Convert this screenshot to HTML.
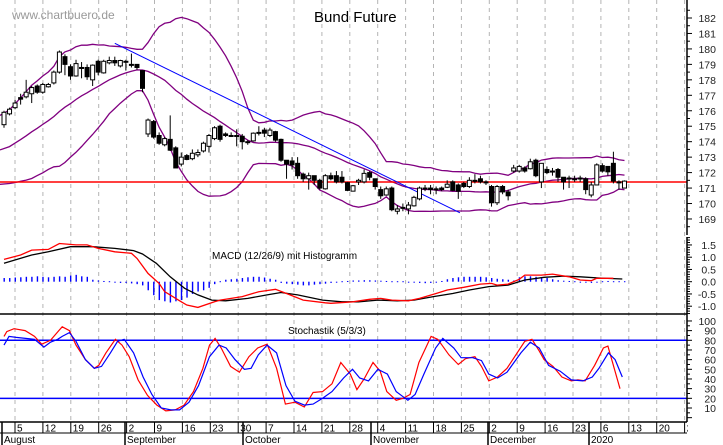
<!DOCTYPE html>
<html><head><meta charset="utf-8"><title>Bund Future</title>
<style>
html,body{margin:0;padding:0;background:#fff;}
svg{display:block;font-family:"Liberation Sans",Arial,sans-serif;}
</style></head>
<body>
<svg id="chart" width="723" height="445" viewBox="0 0 723 445" xmlns="http://www.w3.org/2000/svg">
<rect x="0" y="0" width="723" height="445" fill="#fff"/>
<g id="grid"></g>
<g id="main"></g>
<g id="macd"></g>
<g id="stoch"></g>
<g id="axes"></g>
<text x="12" y="19" font-size="12" fill="#999">www.chartbuero.de</text>
<text x="314" y="22" font-size="15" fill="#000">Bund Future</text>
<text x="212" y="259" font-size="10" fill="#000">MACD (12/26/9) mit Histogramm</text>
<text x="288" y="334" font-size="10" fill="#000">Stochastik (5/3/3)</text>
</svg>
<script>
// ---- price data (daily candles, Aug 1 2019 .. Jan 10 2020) ----
const opens=[175.1,175.8,176.2,176.85,176.9,177.1,177.6,177.2,177.55,177.8,178.5,179.5,178.85,178.25,178.8,178.8,178.0,179.2,178.45,179.1,179.25,178.9,179.2,179.0,179.0,178.6,174.5,175.3,174.4,173.8,174.15,173.6,172.55,173.1,172.9,173.15,173.4,173.7,174.2,175.0,174.5,174.4,174.4,174.35,174.0,174.05,174.6,174.75,174.4,174.65,174.15,172.8,172.75,172.6,171.9,171.6,171.8,171.5,170.95,171.8,171.8,171.7,171.35,170.8,171.4,171.4,172.0,171.6,170.9,170.55,171.0,169.5,169.7,169.65,169.85,170.3,171.0,171.0,170.95,171.0,171.05,171.4,171.2,171.3,171.1,171.5,171.6,171.4,171.1,170.05,171.1,170.75,172.1,172.1,172.3,172.25,172.8,171.4,172.2,172.1,172.2,171.7,171.65,171.6,171.6,171.6,170.55,171.2,172.45,172.4,172.6,171.4,171.0];
const closes=[175.9,176.1,176.5,176.75,177.2,177.5,177.2,177.7,177.7,178.5,179.8,179.0,178.25,179.05,178.75,178.2,178.95,178.5,179.2,179.25,179.1,179.25,179.15,178.95,178.8,177.45,175.4,174.3,173.9,174.2,173.45,172.3,173.0,172.85,173.25,173.3,173.9,174.4,174.9,174.15,174.4,174.4,174.35,174.0,173.95,174.55,174.6,174.55,174.75,174.1,172.8,172.55,172.5,171.8,171.6,171.8,171.5,171.0,171.8,171.6,171.4,171.4,170.85,171.15,171.5,171.95,171.7,171.1,170.5,170.95,169.6,169.65,169.75,169.9,170.4,171.0,171.0,170.9,170.9,170.9,171.25,170.85,170.8,171.1,171.5,171.45,171.4,171.4,170.05,171.1,170.75,170.5,172.3,172.4,172.1,172.7,171.8,172.6,172.0,172.1,171.7,171.4,171.65,171.6,171.65,170.9,171.2,172.5,172.1,172.05,171.45,171.4,171.45];
const highs=[176.0,176.2,176.7,177.1,178.0,177.6,177.7,177.8,177.8,178.6,179.9,179.65,179.0,179.3,179.15,179.0,179.0,179.3,179.3,179.5,179.5,179.3,179.3,179.7,179.0,178.6,175.5,175.4,174.6,174.3,175.7,173.7,173.3,173.2,173.5,173.5,174.0,174.5,175.0,175.1,174.6,174.6,174.8,174.5,174.1,174.6,175.0,174.9,174.9,174.7,174.2,172.8,173.0,173.0,172.0,172.0,171.8,171.6,171.9,172.0,172.1,172.1,171.4,171.2,171.6,172.2,172.1,171.6,171.1,171.1,171.1,169.9,170.0,170.1,170.5,171.1,171.2,171.2,171.1,171.1,171.5,171.5,171.3,171.4,171.7,171.9,171.8,171.5,171.2,171.2,171.2,170.9,172.5,172.5,172.4,172.9,172.9,172.6,172.4,172.3,172.3,171.7,171.8,171.8,171.8,171.7,171.4,172.6,172.6,172.4,173.35,171.5,171.5];
const lows=[174.9,175.7,176.1,176.4,176.8,176.5,177.1,177.1,177.5,177.7,178.4,178.3,178.0,178.2,178.1,178.0,177.6,178.3,178.4,179.0,178.9,178.8,178.6,178.8,178.65,177.2,174.3,174.2,173.8,173.7,173.4,172.3,172.4,172.8,172.8,173.0,173.3,173.3,174.1,174.0,174.3,174.3,173.7,173.5,173.8,174.0,174.4,174.3,174.3,174.0,172.7,171.6,172.2,171.6,171.4,170.9,171.2,170.9,170.9,171.5,171.3,171.3,170.8,170.8,171.2,171.3,171.5,170.9,170.3,170.5,169.5,169.3,169.5,169.3,169.8,170.2,170.8,170.6,170.6,170.8,171.0,170.8,170.3,171.0,171.0,171.3,171.3,171.2,169.8,169.9,170.6,170.2,172.0,172.0,172.0,172.2,171.7,171.0,171.9,171.8,171.4,170.9,171.0,171.4,171.4,170.6,170.4,171.2,172.0,171.8,171.3,170.9,171.0];
// closes of the 19 sessions before the visible window (for Bollinger warm-up)
const preCloses=[171.9,172.0,172.1,172.3,172.4,172.6,172.7,172.9,173.1,173.3,173.4,173.6,173.8,174.0,174.3,174.5,174.7,174.9,175.0];
const supportLevel=171.39;
const trendStart=[20,180.36];
const trendEnd=[82.3,169.4];
const priceTicks=[169,170,171,172,173,174,175,176,177,178,179,180,181,182];
// ---- MACD (sampled at session index) ----
const macdIdx=[0,3,5,8,10,13,15,17,20,23,24,26,28,29,32,33,35,38,39,43,46,49,51,54,58,59,63,66,68,70,73,75,78,80,83,86,88,89,91,93,94,97,99,102,104,106,107,110];
const macdVals=[0.91,1.09,1.29,1.32,1.56,1.5,1.5,1.36,1.22,1.16,0.95,0.34,-0.07,-0.41,-0.82,-0.95,-1.05,-0.82,-0.75,-0.61,-0.41,-0.31,-0.48,-0.75,-0.86,-0.88,-0.82,-0.72,-0.68,-0.75,-0.78,-0.68,-0.48,-0.34,-0.23,-0.1,-0.07,-0.14,-0.1,0.1,0.27,0.27,0.31,0.2,0.07,0.04,0.14,0.14];
const signalIdx=[0,5,8,12,16,20,23.4,25,27.5,30,32.6,35,37.5,40,44,47.5,50,53,57.5,61,64,67.5,71,74,77.5,81,84,87.5,91,94,97.5,101,104,107.4,111.6];
const signalVals=[0.75,1.09,1.22,1.43,1.43,1.36,1.27,1.13,0.75,0.2,-0.27,-0.54,-0.75,-0.78,-0.68,-0.54,-0.44,-0.54,-0.75,-0.82,-0.82,-0.75,-0.78,-0.75,-0.61,-0.48,-0.34,-0.2,-0.14,0.07,0.18,0.23,0.2,0.15,0.11];
const histVals=[0.15,0.15,0.17,0.18,0.2,0.2,0.22,0.2,0.18,0.2,0.22,0.2,0.25,0.28,0.22,0.2,
0.08,0.05,0.03,0.02,0.0,-0.05,-0.05,-0.07,-0.1,-0.15,-0.35,-0.55,-0.75,-0.8,-0.85,-0.8,-0.75,-0.65,-0.5,-0.4,-0.35,-0.25,-0.1,0.02,
0.08,0.1,0.12,0.15,0.18,0.2,0.2,0.17,0.12,0.08,-0.05,-0.08,-0.1,-0.12,-0.15,-0.15,-0.12,-0.1,-0.08,-0.05,-0.03,
0.02,0.03,0.05,0.05,0.06,0.06,0.05,0.04,0.03,0.02,0.02,0.02,0.0,-0.03,-0.05,-0.06,-0.05,-0.02,0.03,
0.1,0.15,0.18,0.2,0.2,0.2,0.2,0.18,0.15,0.12,0.1,0.08,0.05,0.18,0.22,0.22,0.2,0.18,0.15,0.1,0.06,
0.04,0.03,0.02,0.0,-0.03,-0.05,-0.03,0.02,0.03,0.02,0.02,0.02];
const macdTicks=[1.5,1.0,0.5,0.0,-0.5,-1.0];
const macdTickLabels=["1.5","1.0","0.5","0.0","-0.5","-1.0"];
// ---- Stochastic ----
const kIdx=[0,0.5,1.8,3.8,5.5,6.8,8.4,9.9,10.5,11.8,13,14.7,16.3,17.1,18.4,20.1,21.3,22.6,24.2,25.9,27.6,29.2,30.9,32.5,34.2,35.9,37.1,38.1,39.2,40.9,42.5,44.2,45.8,47.5,49.2,50.8,52.5,54.2,55.8,57.5,59.2,60.8,62.5,63.7,65,66.6,67.9,69.1,70.8,72,73.3,74.9,77.1,78.3,80.3,82,83.3,85,86.2,87.5,89.1,90.8,92.4,94,95.3,96.6,97.5,99.1,100.7,102.4,103.6,104.9,106.6,108.2,109,111.2];
const kVals=[84,89,92,90,84,76,80,90,94,90,75,60,51,54,67,81,75,63,39,23,13,7,8,13,27,51,75,82,72,53,47,63,72,76,51,14,16,11,26,27,35,57,45,29,40,57,48,27,18,20,24,57,84,81,65,55,61,63,53,38,42,51,65,79,81,69,60,53,42,38,39,38,54,72,74,30];
const dIdx=[0,0.9,2.2,3.9,5.5,7.2,8.4,9.7,10.5,11.8,13,14.7,16.3,17.6,19.2,20.5,21.7,23.4,25.1,26.7,28.4,30.1,31.7,33.4,35.1,37.1,38.8,40.1,41.7,43.4,44.6,45.9,47.5,49.2,50.9,52.5,54.2,55.8,57.5,59.2,61.3,62.9,64.2,65.8,67.5,69.2,70.8,72.9,74.2,75.8,77.9,79.2,81.2,82.5,84.6,86.2,87.5,89.1,90.8,93.3,95,96.6,98.3,100.4,102.4,104.5,106.2,107.4,109.1,110.3,111.6];
const dVals=[75,84,83,82,81,73,78,81,84,88,79,60,51,53,67,79,81,67,42,24,10,8,8,16,33,63,75,72,60,50,51,65,75,67,33,17,13,14,20,27,41,50,41,38,50,45,27,18,24,45,72,82,72,62,62,59,45,41,47,67,78,72,54,48,39,38,42,51,67,60,42];
const stochLines=[80,20];
const stochTicks=[100,90,80,70,60,50,40,30,20,10];
// ---- dates ----
const weekLabels=["5","12","19","26","2","9","16","23","30","7","14","21","28","4","11","18","25","2","9","16","23","6","13","20","27"];
const monthLabels=["August","September","October","November","December","2020"];
const monthX=[2,125,243,371,488,589];

const NS="http://www.w3.org/2000/svg";
function mk(tag,attrs,parent){const e=document.createElementNS(NS,tag);for(const k in attrs)e.setAttribute(k,attrs[k]);parent.appendChild(e);return e;}
const PR=687; // right edge of plot
const xi=i=>4+i*5.54;
const yP=p=>18+(182-p)*15.46;
const yM=v=>281.7-v*24.5;
const yS=v=>340.3+(80-v)*0.967;
const gGrid=document.getElementById('grid'),gMain=document.getElementById('main'),gMacd=document.getElementById('macd'),gSt=document.getElementById('stoch'),gAx=document.getElementById('axes');

// weekly gridlines
const gridX=weekLabels.map((_,k)=>15+k*27.9);
gridX.forEach((x,k)=>{
  if(x>=PR)return;
  const l=mk('line',{x1:x,y1:0,x2:x,y2:422,stroke:'#b4b4b4','stroke-width':1,'stroke-dasharray':'4,4'},gGrid);
  
  
});

// Bollinger bands (20,2)
const all=preCloses.concat(closes);
const up=[],mid=[],lo=[];
for(let i=0;i<closes.length;i++){
  const w=all.slice(i,i+20);
  const m=w.reduce((a,b)=>a+b,0)/20;
  const sd=Math.sqrt(w.reduce((a,b)=>a+(b-m)*(b-m),0)/20);
  mid.push(m);up.push(m+2*sd);lo.push(m-2*sd);
}
[[up,'bollinger-upper'],[mid,'bollinger-middle'],[lo,'bollinger-lower']].forEach(([arr,nm])=>{
  const p=mk('polyline',{points:arr.map((v,i)=>(i===0?0:xi(i)).toFixed(1)+','+yP(v).toFixed(1)).join(' '),fill:'none',stroke:'#800080','stroke-width':1.3},gMain);
  
  
});
// support line
const sl=mk('line',{x1:0,x2:PR,y1:yP(supportLevel),y2:yP(supportLevel),stroke:'#ff0000','stroke-width':1.5},gMain);


// trendline
const tl=mk('line',{x1:xi(trendStart[0]),y1:yP(trendStart[1]),x2:xi(trendEnd[0]),y2:yP(trendEnd[1]),stroke:'#0000ff','stroke-width':1},gMain);


// candles
closes.forEach((c,i)=>{
  const o=opens[i],x=xi(i);
  const g=mk('g',{},gMain);
  
  
  mk('line',{x1:x,x2:x,y1:yP(highs[i]),y2:yP(lows[i]),stroke:'#000','stroke-width':1},g);
  const top=yP(Math.max(o,c)),bot=yP(Math.min(o,c));
  mk('rect',{x:x-2,y:top,width:4,height:Math.max(1,bot-top),fill:c>=o?'#fff':'#000',stroke:'#000','stroke-width':1},g);
});

// MACD histogram
histVals.forEach((v,i)=>{
  const y0=yM(0),y1=yM(v);
  const b=mk('rect',{x:xi(i)-0.5,y:Math.min(y0,y1),width:1.4,height:Math.max(1,Math.abs(y1-y0)),fill:'#0000ff'},gMacd);
  
  
});
const sig=mk('polyline',{points:signalIdx.map((t,k)=>xi(t).toFixed(1)+','+yM(signalVals[k]).toFixed(1)).join(' '),fill:'none',stroke:'#000','stroke-width':1.3},gMacd);


const ml=mk('polyline',{points:macdIdx.map((t,k)=>xi(t).toFixed(1)+','+yM(macdVals[k]).toFixed(1)).join(' '),fill:'none',stroke:'#ff0000','stroke-width':1.3},gMacd);


const sep=mk('line',{x1:0,x2:PR,y1:314,y2:314,stroke:'#000','stroke-width':1.5},gMacd);



// Stochastic
stochLines.forEach(v=>{
  const l=mk('line',{x1:0,x2:PR,y1:yS(v),y2:yS(v),stroke:'#0000ff','stroke-width':1.5},gSt);
  
  
});
const kl=mk('polyline',{points:kIdx.map((t,k)=>xi(t).toFixed(1)+','+yS(kVals[k]).toFixed(1)).join(' '),fill:'none',stroke:'#ff0000','stroke-width':1.2},gSt);


const dl=mk('polyline',{points:dIdx.map((t,k)=>xi(t).toFixed(1)+','+yS(dVals[k]).toFixed(1)).join(' '),fill:'none',stroke:'#0000ff','stroke-width':1.2},gSt);



// right axes
function axisSeg(y1,y2){const l=mk('line',{x1:PR,x2:PR,y1:y1,y2:y2,stroke:'#000','stroke-width':1.5},gAx);}
axisSeg(0,235);axisSeg(237,314);axisSeg(314,422);
for(let p=168.5;p<=182.6;p+=0.5){const y=yP(p);if(y<1||y>233)continue;mk('line',{x1:PR,x2:PR+(p%1===0?5:3),y1:y,y2:y,stroke:'#000'},gAx);}
priceTicks.forEach(p=>{
  const t=mk('text',{x:716,y:yP(p)+4,'font-size':10.5,'text-anchor':'end',fill:'#222'},gAx);
  t.textContent=String(p);
  
  
});
for(let v=-1.3;v<=1.85;v+=0.1){const y=yM(v);mk('line',{x1:PR,x2:PR+(Math.abs(v*2-Math.round(v*2))<0.01?5:3),y1:y,y2:y,stroke:'#000'},gAx);}
macdTicks.forEach((v,k)=>{
  const t=mk('text',{x:716,y:yM(v)+4,'font-size':10.5,'text-anchor':'end',fill:'#222'},gAx);
  t.textContent=macdTickLabels[k];
  
  
});
for(let v=0;v<=100;v+=5){const y=yS(v);if(y>421||y<316)continue;mk('line',{x1:PR,x2:PR+(v%10===0?5:3),y1:y,y2:y,stroke:'#000'},gAx);}
stochTicks.forEach(v=>{
  const t=mk('text',{x:716,y:yS(v)+4,'font-size':10.5,'text-anchor':'end',fill:'#222'},gAx);
  t.textContent=String(v);
  
  
});

// date axis
mk('line',{x1:0,x2:PR,y1:422,y2:422,stroke:'#000','stroke-width':1.5},gAx);
mk('line',{x1:0,x2:PR,y1:433,y2:433,stroke:'#000','stroke-width':1},gAx);
gridX.forEach((x,k)=>{
  if(x>=PR)return;
  mk('line',{x1:x,x2:x,y1:422,y2:433,stroke:'#000'},gAx);
  const t=mk('text',{x:x+2,y:431.5,'font-size':10,fill:'#000'},gAx);
  t.textContent=weekLabels[k];
  
  
});
monthLabels.forEach((m,k)=>{
  mk('line',{x1:monthX[k],x2:monthX[k],y1:422,y2:445,stroke:'#000','stroke-width':1.5},gAx);
  const t=mk('text',{x:monthX[k]+2,y:443,'font-size':10,fill:'#000'},gAx);
  t.textContent=m;
  
  
});
mk('rect',{x:PR+1,y:423,width:40,height:22,fill:'#fff'},gAx);
</script>
</body></html>
